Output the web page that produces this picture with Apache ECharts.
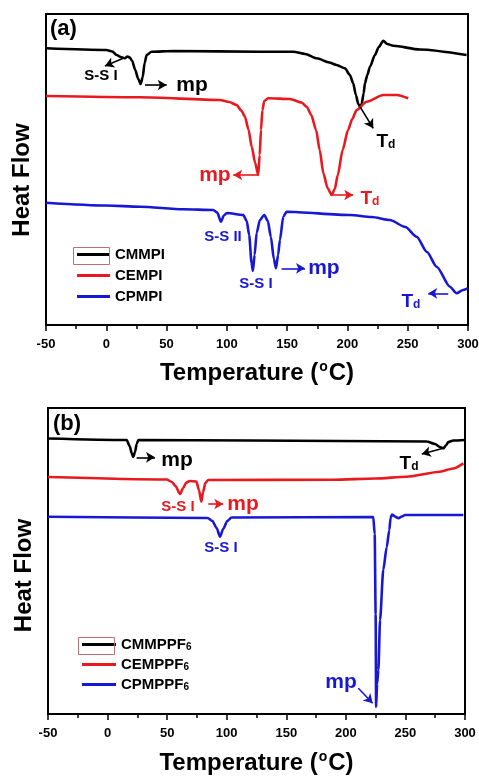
<!DOCTYPE html>
<html>
<head>
<meta charset="utf-8">
<script src="https://cdn.jsdelivr.net/npm/echarts@6/dist/echarts.min.js"></script>
<style>
  html, body { margin: 0; padding: 0; background: #ffffff; }
  #chart { width: 479px; height: 776px; }
</style>
</head>
<body>
<div id="chart"></div>
<script>
// Temperature axis ticks (°C)
const tempTicks = [-50, 0, 50, 100, 150, 200, 250, 300];

// DSC heat flow curves, [temperature °C, heat flow (a.u., offset per trace)]
// Panel (a): iodide salts
const cmmpi = [
  [-50, 276.7], [0, 275], [5, 273.5], [8.6, 270], [12, 268], [15.5, 266.7], [17.5, 268.5],
  [19.5, 267.5], [21.5, 264], [24, 255], [26.5, 246], [28.5, 241], [30.2, 248], [31.8, 262],
  [33.5, 270], [37.6, 273.3], [55.6, 274], [127.4, 273.3], [155.1, 273.3], [165, 271],
  [174.5, 266.7], [185, 262.5], [191, 260], [197.9, 256.7], [202, 250], [204.8, 241.7],
  [207, 230], [209, 221], [210.5, 218.3], [211.8, 221], [213.5, 232], [214.5, 241.7],
  [216.5, 250], [218.7, 258.3], [222.8, 270], [226, 278], [229.7, 284.3], [233, 281],
  [238, 279.3], [260, 275.5], [298.8, 270]
];
const cempi = [
  [-50, 229], [28, 227.7], [94.3, 225], [102, 223], [108.1, 220], [112, 214.5], [115, 208.3],
  [118, 195], [120.6, 178.3], [123.5, 162], [126, 150], [127.2, 170], [128.3, 195],
  [129.5, 215], [131, 224], [134.3, 226.7], [152.3, 226], [162, 222.5], [166.2, 218.3],
  [170, 210], [174, 195], [177, 175], [180, 152], [183.5, 137], [186.9, 130], [189.5, 136],
  [192, 150], [196, 175], [200.5, 195], [204, 206], [207.6, 215], [215.9, 223.3],
  [229.7, 230], [240.8, 230], [250.4, 226.7]
];
const cpmpi = [
  [-50, 122.3], [0, 119.5], [28, 118.3], [63.8, 115.7], [88.7, 115], [92, 112.5],
  [95.1, 103.3], [97.5, 109.5], [100, 112], [113.6, 110], [116.5, 104], [118.5, 90],
  [120.5, 62], [121.6, 54], [123, 70], [124.7, 92], [127.4, 105], [131, 110], [134, 104],
  [136.5, 88], [139, 66], [140.7, 56.7], [142.5, 70], [144, 85], [146.8, 108.3],
  [149.6, 113.3], [202.1, 110], [220, 108], [235.2, 105], [248, 98], [257.4, 88.3],
  [266, 73], [274, 58.3], [285, 38.3], [290.5, 31.7], [296, 35], [300, 36.7]
];

// Panel (b): hexafluorophosphate salts
const cmmppf6 = [
  [-50, 275.5], [16.1, 274], [18.5, 268], [20.5, 260], [21.6, 257], [23, 262], [24.5, 270],
  [25.8, 274], [119.5, 273.5], [267.9, 272.5], [274.8, 270], [279, 267], [281.8, 265.7],
  [284, 268.5], [286, 272], [290.2, 273.5], [300, 274]
];
const cemppf6 = [
  [-50, 237], [49.6, 234.5], [54, 232], [57, 228], [60.8, 220], [63.5, 226], [66, 231.5],
  [69.2, 233], [74.5, 232.5], [76.7, 224], [78.7, 212.3], [80.2, 222], [82, 231],
  [84.5, 234], [189.5, 234.2], [225, 235.5], [251, 237.3], [279, 242.3], [290, 245.5],
  [298.6, 250.7]
];
const cpmppf6 = [
  [-50, 197.3], [84, 196], [88, 193], [91.5, 186], [94.4, 177.3], [97, 185], [100.5, 193],
  [104, 196.5], [223, 197], [224.2, 180], [225, 100], [225.4, 7], [226.2, 30],
  [227.3, 44], [228.7, 94], [231.4, 144], [234.3, 167], [236.5, 184], [237.5, 196],
  [238.7, 199.5], [241.3, 197.5], [244, 195.7], [247.1, 197.5], [249.6, 199], [298.6, 199]
];

const namesA = ['CMMPI', 'CEMPI', 'CPMPI'];
const namesB = ['CMMPPF6', 'CEMPPF6', 'CPMPPF6'];

// Transition annotations: arrows [from, to] and labels [coord, text]
const arrowsA = [
  [[14.1, 266.7], [-1.1, 259]],
  [[32.1, 240], [50.1, 240]],
  [[210.4, 218.3], [221.4, 196.7]]
];
const labelsA = [
  [[-4.4, 249], 'S-S I'], [[71.1, 240], 'mp'], [[231.9, 185], 'Td']
];
const arrowsA2 = [
  [[126, 150], [105.3, 150]],
  [[186.9, 130], [204.8, 130]]
];
const labelsA2 = [
  [[90.1, 150], 'mp'], [[218.7, 128], 'Td']
];
const arrowsA3 = [
  [[145.4, 56.7], [164.8, 56.7]],
  [[283.6, 31.7], [267, 31.7]]
];
const labelsA3 = [
  [[96.8, 88], 'S-S II'], [[124.1, 41], 'S-S I'], [[180.5, 56.7], 'mp'], [[252.7, 25], 'Td']
];
const arrowsB = [
  [[24.4, 256.7], [39.8, 256.7]],
  [[281.8, 265.7], [263.7, 260]]
];
const labelsB = [
  [[58.3, 254], 'mp'], [[253, 252], 'Td']
];
const arrowsB2 = [
  [[84.5, 210], [97.1, 210]]
];
const labelsB2 = [
  [[59.1, 207], 'S-S I'], [[113.7, 210], 'mp']
];
const arrowsB3 = [
  [[210.5, 25.7], [222.5, 10.7]]
];
const labelsB3 = [
  [[95.2, 166], 'S-S I'], [[195.9, 32], 'mp']
];

const FONT = '"Liberation Sans", Arial, sans-serif';
const BLACK = '#000000', RED = '#e8191f', BLUE = '#1818d4';

const richText = {
  t: { fontSize: 19, fontWeight: 'bold', fontFamily: FONT, lineHeight: 22, verticalAlign: 'bottom' },
  d: { fontSize: 12, fontWeight: 'bold', fontFamily: FONT, lineHeight: 22, verticalAlign: 'bottom' }
};

function labelItem(entry, color) {
  const [coord, text] = entry;
  let formatter = text, size = 15;
  if (text === 'Td') formatter = '{t|T}{d|d}';
  if (text === 'mp') size = 21;
  return {
    coord: coord,
    symbol: 'circle',
    symbolSize: 0,
    label: {
      show: true, position: 'inside', formatter: formatter,
      color: color, fontSize: size, fontWeight: 'bold', fontFamily: FONT,
      rich: richText
    }
  };
}

function makeSeries(name, data, color, gridIdx, arrows, labels) {
  return {
    name: name,
    type: 'line',
    xAxisIndex: gridIdx,
    yAxisIndex: gridIdx,
    data: data,
    smooth: 0.25,
    smoothMonotone: 'x',
    showSymbol: false,
    symbol: 'none',
    animation: false,
    silent: true,
    lineStyle: { color: color, width: 2.6 },
    itemStyle: { color: color },
    markLine: {
      silent: true,
      animation: false,
      symbol: ['none', 'arrow'],
      symbolSize: [8, 9],
      label: { show: false },
      lineStyle: { color: color, width: 1.6, type: 'solid' },
      emphasis: { disabled: true },
      data: arrows.map(a => [{ coord: a[0] }, { coord: a[1] }])
    },
    markPoint: {
      silent: true,
      animation: false,
      data: labels.map(l => labelItem(l, color))
    }
  };
}

function xAxisCfg(gridIdx, labelMargin, nameGap) {
  return {
    type: 'value',
    gridIndex: gridIdx,
    min: tempTicks[0],
    max: tempTicks[tempTicks.length - 1],
    interval: tempTicks[1] - tempTicks[0],
    name: '{a|Temperature (}{s|o}{a|C)}',
    nameLocation: 'middle',
    nameGap: nameGap,
    nameTextStyle: {
      rich: {
        a: { fontSize: 24, fontWeight: 'bold', fontFamily: FONT, color: '#000', lineHeight: 26 },
        // raised degree mark: extra bottom padding lifts the glyph
        s: { fontSize: 14, fontWeight: 'bold', fontFamily: FONT, color: '#000', lineHeight: 14, padding: [0, 1, 12, 1] }
      }
    },
    axisLine: { show: true, onZero: false, lineStyle: { color: '#000', width: 2 } },
    axisTick: { show: true, inside: false, length: 6, lineStyle: { color: '#000', width: 1.5 } },
    minorTick: { show: true, splitNumber: 2, length: 4, lineStyle: { color: '#000', width: 1.5 } },
    axisLabel: { color: '#000', fontSize: 13, fontWeight: 'bold', fontFamily: FONT, margin: labelMargin },
    splitLine: { show: false },
    minorSplitLine: { show: false }
  };
}

function yAxisCfg(gridIdx, maxVal, shift) {
  return {
    type: 'value',
    gridIndex: gridIdx,
    min: 0,
    max: maxVal,
    name: 'Heat Flow',
    nameLocation: 'middle',
    nameRotate: 90,
    nameGap: 12,
    nameTextStyle: {
      fontSize: 24, fontWeight: 'bold', fontFamily: FONT, color: '#000',
      padding: [0, shift, 0, 0]
    },
    axisLine: { show: true, onZero: false, lineStyle: { color: '#000', width: 2 } },
    axisTick: { show: false },
    axisLabel: { show: false },
    splitLine: { show: false }
  };
}

function legendCfg(names, left, top, width, gap) {
  return {
    orient: 'vertical',
    left: left,
    top: top,
    icon: 'rect',
    itemWidth: width,
    itemHeight: 3,
    itemGap: gap,
    selectedMode: false,
    data: names,
    formatter: n => n.replace(/6$/, '{s|6}'),
    textStyle: {
      color: '#000', fontSize: 15, fontWeight: 'bold', fontFamily: FONT,
      rich: { s: { fontSize: 10, fontWeight: 'bold', fontFamily: FONT, verticalAlign: 'bottom' } }
    }
  };
}

const chart = echarts.init(document.getElementById('chart'), null, { renderer: 'canvas' });

chart.setOption({
  backgroundColor: '#ffffff',
  animation: false,
  title: [
    { text: '(a)', left: 50, top: 18, padding: 0,
      textStyle: { fontSize: 22, fontWeight: 'bold', fontFamily: FONT, color: '#000' } },
    { text: '(b)', left: 53, top: 413, padding: 0,
      textStyle: { fontSize: 22, fontWeight: 'bold', fontFamily: FONT, color: '#000' } }
  ],
  grid: [
    { left: 46, top: 14, width: 422, height: 311, outerBoundsMode: 'none', containLabel: false,
      show: true, borderColor: '#000', borderWidth: 2, backgroundColor: 'transparent' },
    { left: 48, top: 408, width: 417, height: 306, outerBoundsMode: 'none', containLabel: false,
      show: true, borderColor: '#000', borderWidth: 2, backgroundColor: 'transparent' }
  ],
  xAxis: [xAxisCfg(0, 13, 35), xAxisCfg(1, 13, 36)],
  yAxis: [yAxisCfg(0, 311, 21), yAxisCfg(1, 306, 29)],
  legend: [
    legendCfg(namesA, 72, 242, 33, 6),
    legendCfg(namesB, 77, 632, 34, 5)
  ],
  graphic: [
    // outline drawn round the first legend key of each panel
    { type: 'rect', left: 71, top: 245, shape: { width: 36, height: 17 },
      style: { fill: 'none', stroke: '#b47474', lineWidth: 1 }, silent: true, z: 10 },
    { type: 'rect', left: 76, top: 635, shape: { width: 36, height: 17 },
      style: { fill: 'none', stroke: '#b47474', lineWidth: 1 }, silent: true, z: 10 }
  ],
  series: [
    makeSeries(namesA[0], cmmpi, BLACK, 0, arrowsA, labelsA),
    makeSeries(namesA[1], cempi, RED, 0, arrowsA2, labelsA2),
    makeSeries(namesA[2], cpmpi, BLUE, 0, arrowsA3, labelsA3),
    makeSeries(namesB[0], cmmppf6, BLACK, 1, arrowsB, labelsB),
    makeSeries(namesB[1], cemppf6, RED, 1, arrowsB2, labelsB2),
    makeSeries(namesB[2], cpmppf6, BLUE, 1, arrowsB3, labelsB3)
  ]
});
</script>
</body>
</html>
